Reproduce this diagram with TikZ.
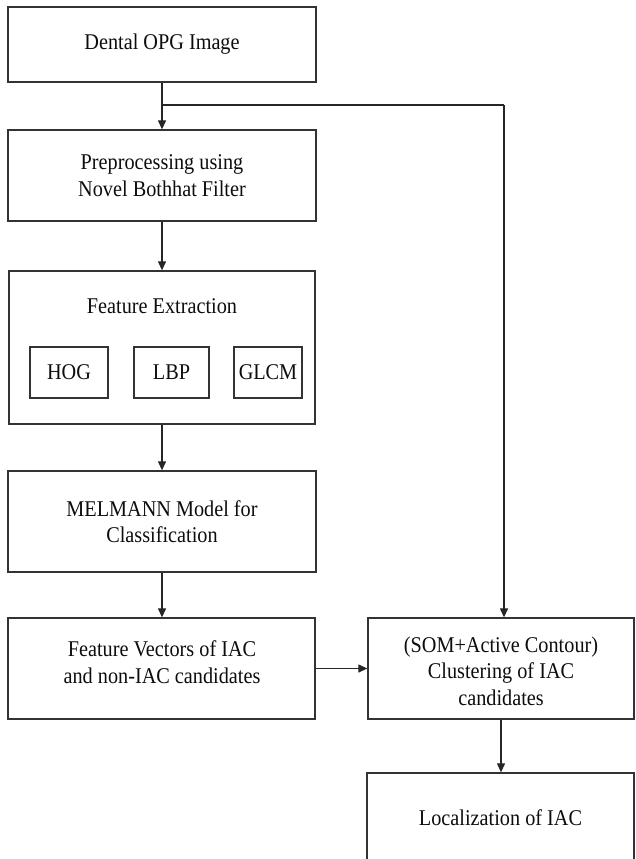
\documentclass[tikz,border=0pt]{standalone}
\usepackage{fontspec}
\setmainfont{Liberation Serif}[FakeStretch=0.9]
\usetikzlibrary{arrows.meta}
\begin{document}
\begin{tikzpicture}[x=1pt,y=-1pt,
  txt/.style={align=center, inner sep=0pt, font=\fontsize{22.5}{26.5}\selectfont, text=black!95},
  box/.style={txt, draw=black!80, line width=1.3pt, rectangle},
  arr/.style={draw=black!85, line width=1.2pt, -{Triangle[length=9pt,width=8pt]}},
  ln/.style={draw=black!85, line width=1.2pt}]
\useasboundingbox (0,0) rectangle (635,859);
\fill[white] (0,0) rectangle (635,859);
\clip (0,0) rectangle (635,859);
% left column
\node[box, minimum width=308pt, minimum height=75pt] (opg) at (162,44.5) {Dental OPG Image};
\node[box, minimum width=308pt, minimum height=91pt] (pre) at (162,175.5) {Preprocessing using\\Novel Bothhat Filter};
\node[box, minimum width=306pt, minimum height=153pt] (fe) at (162,347.5) {};
\node[txt] (fet) at (162,306) {Feature Extraction};
\node[box, minimum width=78pt, minimum height=51pt] (hog) at (69,372.5) {HOG};
\node[box, minimum width=75pt, minimum height=51pt] (lbp) at (171.5,372.5) {LBP};
\node[box, minimum width=68pt, minimum height=51pt] (glcm) at (268,372.5) {GLCM};
\node[box, minimum width=308pt, minimum height=101pt] (mel) at (162,521.5) {MELMANN Model for\\Classification};
\node[box, minimum width=307pt, minimum height=101pt] (fv) at (161.5,668.5) {};
\node[txt] (fvt) at (162,662) {Feature Vectors of IAC\\and non-IAC candidates};
% right column
\node[box, minimum width=266pt, minimum height=101pt] (som) at (501,668.5) {};
\node[txt] (somt) at (501,671) {(SOM+Active Contour)\\Clustering of IAC\\candidates};
\node[box, minimum width=267pt, minimum height=89pt] (loc) at (500.5,817.5) {Localization of IAC};
% connectors
\coordinate (br) at (162,105);
\draw[arr] (opg.south) -- (pre.north);
\draw[ln] (br) -- (br -| 504,0);
\draw[arr] (br -| 504,0) -- ([xshift=3pt]som.north);
\draw[arr] (pre.south) -- (fe.north -| pre.south);
\draw[arr] (fe.south -| pre.south) -- (mel.north);
\draw[arr] (mel.south) -- (fv.north -| mel.south);
\draw[arr] (fv.east) -- (som.west);
\draw[arr] (som.south) -- (som.south |- loc.north);
\end{tikzpicture}
\end{document}
